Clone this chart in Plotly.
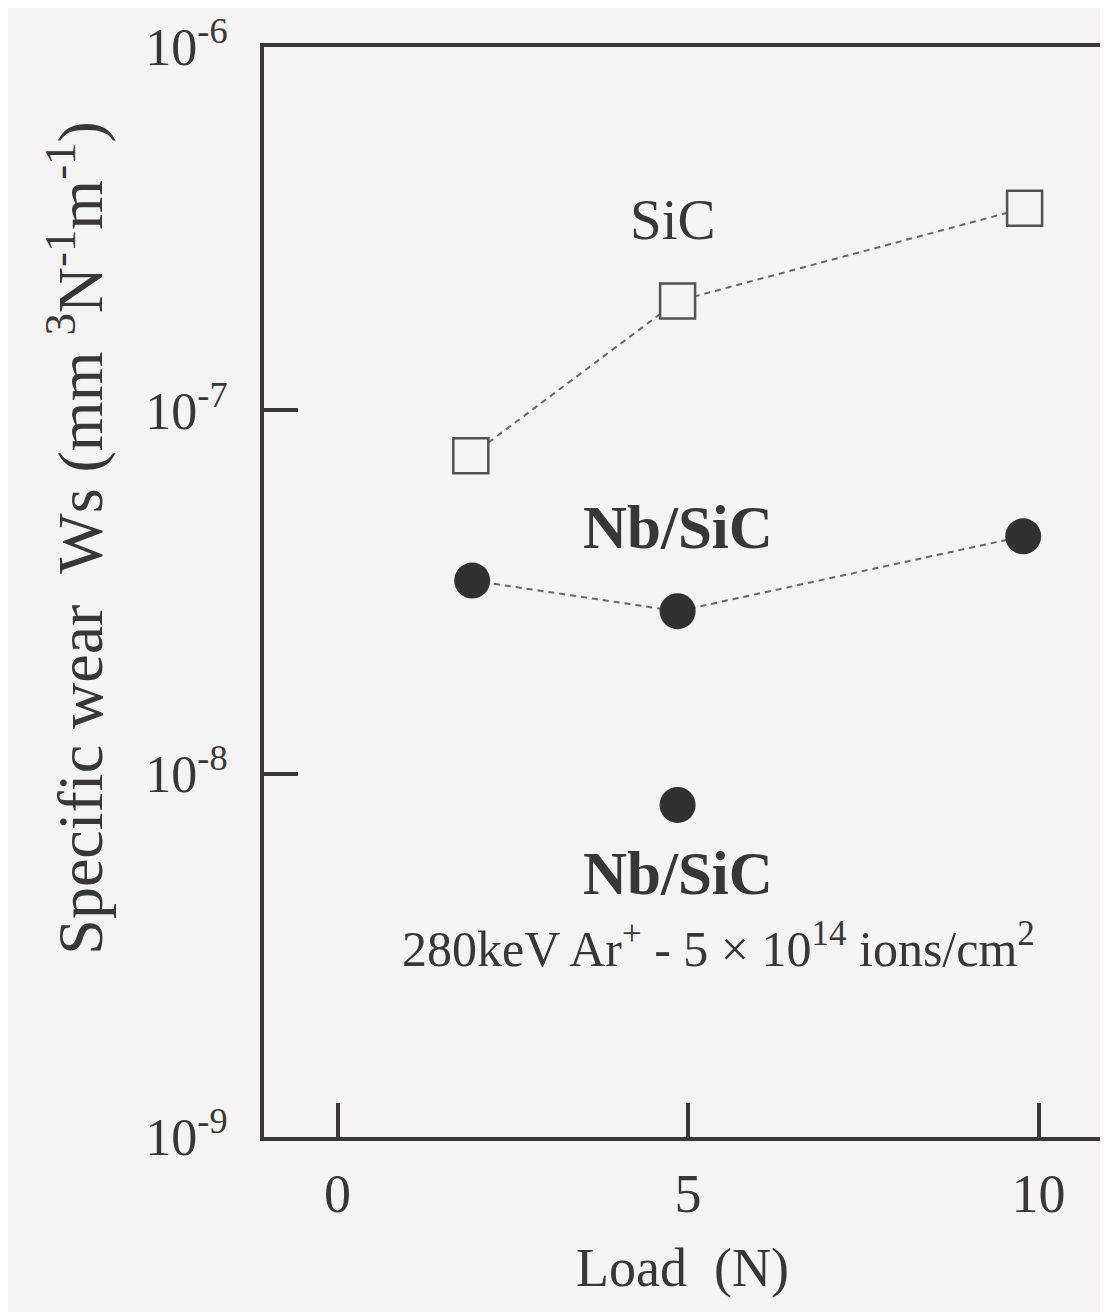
import plotly.graph_objects as go

load_sic = [1.9, 4.85, 9.8]
ws_sic = [7.5e-8, 2.0e-7, 3.6e-7]
load_nb = [1.92, 4.85, 9.78]
ws_nb = [3.4e-8, 2.8e-8, 4.5e-8]
load_nb_impl = [4.85]
ws_nb_impl = [8.2e-9]

y_tickvals = [1e-9, 1e-8, 1e-7, 1e-6]
y_ticktext = ["10<sup>-9</sup>", "10<sup>-8</sup>", "10<sup>-7</sup>", "10<sup>-6</sup>"]
x_tickvals = [0, 5, 10]

BG = "#f5f3f4"
INK = "#3a3638"
FONT = "Liberation Serif"

fig = go.Figure()
fig.add_trace(go.Scatter(
    x=load_sic, y=ws_sic, mode="lines+markers",
    line=dict(color="#6a6668", width=2, dash="6px,5px"),
    marker=dict(symbol="square", size=35, color=BG, line=dict(color="#555153", width=2.5)),
    showlegend=False))
fig.add_trace(go.Scatter(
    x=load_nb, y=ws_nb, mode="lines+markers",
    line=dict(color="#6a6668", width=2, dash="6px,5px"),
    marker=dict(symbol="circle", size=36, color="#333032"),
    showlegend=False))
fig.add_trace(go.Scatter(
    x=load_nb_impl, y=ws_nb_impl, mode="markers",
    marker=dict(symbol="circle", size=36, color="#333032"),
    showlegend=False))

annots = [
    dict(x=4.79, y=-6.474, text="SiC", font=dict(size=57, family=FONT, color=INK)),
    dict(x=4.86, y=-7.323, text="<b>Nb/SiC</b>", font=dict(size=61, family=FONT, color=INK)),
    dict(x=4.86, y=-8.274, text="<b>Nb/SiC</b>", font=dict(size=61, family=FONT, color=INK)),
    dict(x=5.44, y=-8.474,
         text="280keV Ar<sup>+</sup> - 5 × 10<sup>14</sup> ions/cm<sup>2</sup>",
         font=dict(size=50, family=FONT, color=INK)),
]
for a in annots:
    fig.add_annotation(xref="x", yref="y", showarrow=False, xanchor="center", yanchor="middle", **a)

# y-axis title placed as rotated text (centred above the axis midpoint, as in the original)
fig.add_annotation(
    xref="paper", yref="paper", x=-0.2247, y=0.5498, showarrow=False,
    xanchor="center", yanchor="middle", textangle=-90,
    text="Specific wear  Ws (mm <sup>3</sup>N<sup>-1</sup>m<sup>-1</sup>)",
    font=dict(size=64, family=FONT, color=INK))

fig.update_layout(
    width=1100, height=1304,
    margin=dict(l=256, r=3, t=34, b=175),
    paper_bgcolor=BG, plot_bgcolor=BG,
    font=dict(family=FONT, color=INK, size=50),
    xaxis=dict(
        range=[-1.05, 10.89], tickvals=x_tickvals,
        ticks="inside", ticklen=34, tickwidth=4, tickcolor=INK,
        showline=True, linewidth=4, linecolor=INK, mirror=True,
        showgrid=False, zeroline=False,
        tickfont=dict(size=54, family=FONT, color=INK),
        ticklabelstandoff=6,
        title=dict(text="Load  (N)", font=dict(size=54, family=FONT, color=INK), standoff=26),
    ),
    yaxis=dict(
        type="log", range=[-9, -6], tickvals=y_tickvals, ticktext=y_ticktext,
        ticks="inside", ticklen=34, tickwidth=4, tickcolor=INK,
        showline=True, linewidth=4, linecolor=INK, mirror=True,
        showgrid=False, zeroline=False,
        tickfont=dict(size=52, family=FONT, color=INK),
        ticklabelstandoff=22, ticklabeloverflow="allow",
    ),
)

fig.write_html("out.html")
